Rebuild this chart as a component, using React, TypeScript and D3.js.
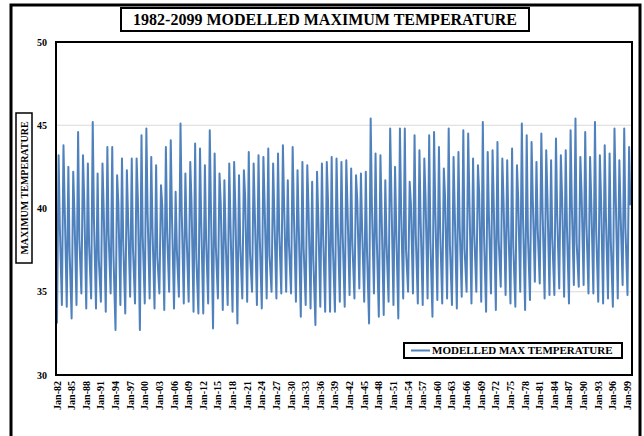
import React from "react";
import * as d3 from "d3";

// Yearly key values (1982..2099)
const years: number[] = d3.range(1982, 2100);

// January (winter low) values
const troughJan: number[] = [
  33.1, 34.2, 34.1, 33.4, 34.2, 34.9, 34.0, 34.6, 34.0, 34.4,
  33.8, 34.9, 32.7, 34.2, 33.7, 34.7, 34.3, 32.7, 34.3, 34.6,
  34.0, 34.9, 33.9, 35.0, 34.0, 34.7, 34.3, 34.4, 33.8, 33.7,
  33.7, 34.3, 32.8, 34.6, 33.9, 34.2, 33.8, 33.1, 34.6, 34.4,
  35.0, 34.2, 34.0, 34.6, 35.0, 34.6, 34.9, 35.0, 34.9, 34.4,
  33.5, 34.2, 34.0, 33.0, 34.1, 33.8, 33.8, 33.8, 34.4,
  34.1, 34.8, 34.6, 35.2, 34.4, 33.1, 34.9, 33.5, 33.6, 34.4,
  34.2, 33.4, 34.6, 35.0, 34.9, 34.3, 34.2, 34.6, 33.5, 34.5,
  34.3, 34.6, 34.2, 34.0, 34.7, 35.0, 34.3, 35.0, 34.4,
  33.8, 34.9, 33.9, 35.3, 34.8, 34.3, 34.1, 35.0, 33.9, 34.5,
  35.6, 35.5, 34.6, 34.8, 34.8, 35.2, 34.7, 34.3, 35.4, 35.3,
  35.4, 34.9, 34.9, 34.4, 34.3, 34.6, 34.1, 34.6, 35.4, 34.8,
];

// May (summer peak) values
const peakMay: number[] = [
  43.2, 43.8, 42.5, 42.2, 44.6, 43.2, 42.7, 45.2, 42.1, 42.7,
  43.7, 43.7, 42.0, 43.0, 42.3, 43.0, 43.0, 44.4, 44.8, 43.1,
  42.6, 41.4, 43.7, 44.1, 41.0, 45.1, 42.1, 42.8, 43.9, 43.6,
  42.6, 44.7, 43.3, 42.1, 41.7, 42.7, 42.8, 42.0, 42.3, 43.4,
  42.7, 43.2, 43.1, 43.6, 42.7, 43.3, 43.8, 41.7, 43.7, 42.3,
  42.8, 42.6, 41.6, 42.2, 42.7, 42.8, 43.1, 43.0, 42.8,
  42.9, 42.4, 42.0, 42.1, 42.2, 45.4, 43.3, 43.2, 41.7, 44.8,
  42.5, 44.8, 44.8, 41.6, 44.4, 43.5, 43.0, 44.4, 44.6, 43.7,
  42.4, 44.8, 43.1, 43.4, 44.7, 44.5, 43.0, 42.6, 45.2,
  43.4, 43.5, 44.0, 43.0, 42.9, 43.6, 42.6, 45.1, 44.4, 44.0,
  42.8, 44.5, 43.5, 42.9, 44.2, 43.2, 43.5, 44.7, 45.4, 43.1,
  44.6, 43.1, 45.2, 43.2, 43.8, 43.3, 44.8, 42.9, 44.8, 43.7,
];

// August (monsoon) values
const monsoonAug: number[] = [
  38.9, 40.1, 37.4, 39.6, 38.2, 40.5, 37.8, 39.3, 36.9, 39.9,
  38.5, 37.2, 40.3, 38.0, 39.4, 37.6, 40.6, 38.3, 39.7, 38.8,
  37.1, 40.2, 38.6, 39.5, 37.5, 39.8, 38.4, 40.4, 37.0, 39.2,
  38.1, 39.9, 37.7, 40.3, 38.2, 39.0, 40.0, 37.9, 40.7, 37.3,
  39.6, 38.3, 40.2, 37.2, 39.4, 38.6, 40.1, 37.8, 39.7, 38.9,
  37.6, 40.0, 36.9, 39.5, 38.4, 40.4, 37.7, 39.1, 38.5, 40.0,
  37.9, 40.5, 38.7, 37.4, 40.2, 38.2, 39.6, 37.9, 40.8, 38.6,
  39.8, 37.5, 40.3, 38.4, 39.2, 40.6, 38.0, 39.9, 38.7, 40.7,
  37.8, 39.7, 38.9, 37.6, 40.4, 38.5, 40.9, 38.3, 39.5, 40.1,
  38.1, 40.4, 39.0, 37.7, 40.6, 39.3, 38.4, 40.5, 38.8, 39.9,
  40.6, 38.2, 39.6, 40.7, 38.9, 40.2, 37.9, 40.9, 39.1, 40.3,
  38.6, 40.5, 39.4, 38.0, 40.8, 39.7, 38.8, 40.2,
];

const yTicks: number[] = [30, 35, 40, 45, 50];
const gridValues: number[] = [35, 40, 45];
const titleText = "1982-2099 MODELLED MAXIMUM TEMPERATURE";
const yTitle = "MAXIMUM TEMPERATURE";
const seriesName = "MODELLED MAX TEMPERATURE";

const W = 644;
const H = 436;
const FONT = "'Liberation Serif', 'Times New Roman', serif";
const BLUE = "#4f81bd";

type Pt = { date: Date; v: number };

export default function App() {
  const points: Pt[] = [];
  years.forEach((yr, i) => {
    points.push({ date: new Date(yr, 0, 1), v: troughJan[i] });
    points.push({ date: new Date(yr, 4, 1), v: peakMay[i] });
    points.push({ date: new Date(yr, 7, 1), v: monsoonAug[i] });
  });

  const plot = { x0: 56, x1: 632, y0: 42, y1: 375 };
  const x = d3
    .scaleTime()
    .domain([new Date(1982, 0, 1), new Date(2099, 0, 1)])
    .range([57, 627.5]);
  const y = d3.scaleLinear().domain([30, 50]).range([plot.y1, plot.y0]);

  const line = d3
    .line<Pt>()
    .x((d) => x(d.date))
    .y((d) => y(d.v));

  const xTicks: Date[] = d3.range(1982, 2100, 3).map((yr) => new Date(yr, 0, 1));
  const fmt = d3.timeFormat("%b-%y");

  return (
    <svg
      width={W}
      height={H}
      style={{ position: "absolute", left: 0, top: 0, background: "#fff" }}
      fontFamily={FONT}
    >
      <rect x={0} y={0} width={W} height={H} fill="#fff" />
      {/* outer frame */}
      <rect x={11} y={5} width={629} height={445} fill="none" stroke="#000" strokeWidth={3} />

      {/* title */}
      <rect x={121} y={8} width={408} height={23} fill="#fff" stroke="#000" strokeWidth={2} />
      <text x={325} y={25} textAnchor="middle" fontWeight="bold" fontSize={16}>
        {titleText}
      </text>

      {/* gridlines */}
      {gridValues.map((g) => (
        <line key={g} x1={plot.x0} x2={plot.x1} y1={y(g)} y2={y(g)} stroke="#d9d9d9" strokeWidth={1} />
      ))}

      {/* data line */}
      <path d={line(points) || ""} fill="none" stroke={BLUE} strokeWidth={2} strokeLinejoin="round" />

      {/* plot border */}
      <rect
        x={plot.x0}
        y={plot.y0}
        width={plot.x1 - plot.x0}
        height={plot.y1 - plot.y0}
        fill="none"
        stroke="#000"
        strokeWidth={2}
      />

      {/* y ticks */}
      {yTicks.map((t) => (
        <text key={t} x={47} y={y(t)} dy="0.35em" textAnchor="end" fontWeight="bold" fontSize={10}>
          {t}
        </text>
      ))}

      {/* x ticks */}
      {xTicks.map((d, i) => (
        <text
          key={i}
          transform={`translate(${x(d)},381) rotate(-90)`}
          dy="0.35em"
          textAnchor="end"
          fontWeight="bold"
          fontSize={10}
        >
          {fmt(d)}
        </text>
      ))}

      {/* y title */}
      <rect x={16} y={113} width={16} height={150} fill="#fff" stroke="#000" strokeWidth={1.5} />
      <text
        transform="translate(24,188) rotate(-90)"
        textAnchor="middle"
        dy="0.35em"
        fontWeight="bold"
        fontSize={10}
      >
        {yTitle}
      </text>

      {/* legend */}
      <rect x={404} y={343} width={218} height={15} fill="#fff" stroke="#000" strokeWidth={2} />
      <line x1={411} x2={430} y1={350.5} y2={350.5} stroke={BLUE} strokeWidth={2} />
      <text x={432} y={350.5} dy="0.35em" fontWeight="bold" fontSize={11}>
        {seriesName}
      </text>
    </svg>
  );
}
